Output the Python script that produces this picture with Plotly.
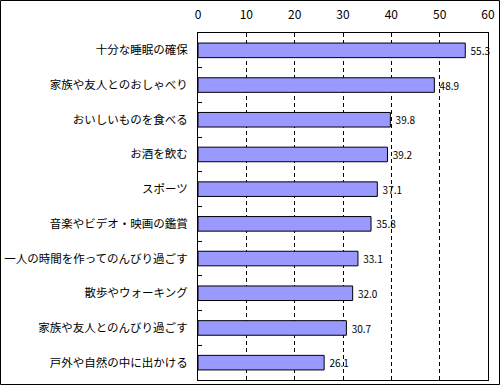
import plotly.graph_objects as go

categories = ["十分な睡眠の確保", "家族や友人とのおしゃべり", "おいしいものを食べる", "お酒を飲む",
              "スポーツ", "音楽やビデオ・映画の鑑賞", "一人の時間を作ってのんびり過ごす",
              "散歩やウォーキング", "家族や友人とのんびり過ごす", "戸外や自然の中に出かける"]
values = [55.3, 48.9, 39.8, 39.2, 37.1, 35.8, 33.1, 32.0, 30.7, 26.1]
value_labels = ["55.3", "48.9", "39.8", "39.2", "37.1", "35.8", "33.1", "32.0", "30.7", "26.1"]
x_ticks = [0, 10, 20, 30, 40, 50, 60]

W, H = 500, 385
L, R, T, B = 198, 12, 33, 5
pw, ph = W - L - R, H - T - B

font = "Noto Sans CJK JP"

fig = go.Figure(go.Bar(
    y=categories, x=values, orientation="h",
    marker=dict(color="#9999FF", line=dict(color="black", width=1)),
    width=0.42,
    text=value_labels, texttemplate=" %{text}", textposition="outside", cliponaxis=False,
    textfont=dict(family=font, size=11, color="black"),
    hoverinfo="skip",
))

fig.update_layout(
    width=W, height=H,
    margin=dict(l=L, r=R, t=T, b=B, autoexpand=False),
    paper_bgcolor="white", plot_bgcolor="white",
    showlegend=False,
    font=dict(family=font, color="black"),
    xaxis=dict(side="top", range=[0, 60], tickvals=x_ticks, ticktext=[str(v) for v in x_ticks],
               showgrid=True, gridcolor="black", griddash="4px,3px", gridwidth=1,
               showline=True, linecolor="black", linewidth=1, mirror=True,
               ticks="", tickfont=dict(family=font, size=12), ticklabelstandoff=8,
               zeroline=False, fixedrange=True, automargin=False),
    yaxis=dict(autorange="reversed", type="category",
               showline=True, linecolor="black", linewidth=1, mirror=True,
               ticks="inside", ticklen=4, tickcolor="black", tickson="boundaries",
               tickfont=dict(family=font, size=11.5), ticklabelstandoff=7,
               showgrid=False, fixedrange=True, automargin=False),
    shapes=[dict(type="rect", xref="paper", yref="paper",
                 x0=-(L - 0.5) / pw, x1=1 + (R - 0.5) / pw,
                 y0=-(B - 0.5) / ph, y1=1 + (T - 0.5) / ph,
                 line=dict(color="black", width=1))],
)

fig.write_html("out.html", config={"displayModeBar": False, "staticPlot": True},
               post_script="document.body.style.margin='0';")
